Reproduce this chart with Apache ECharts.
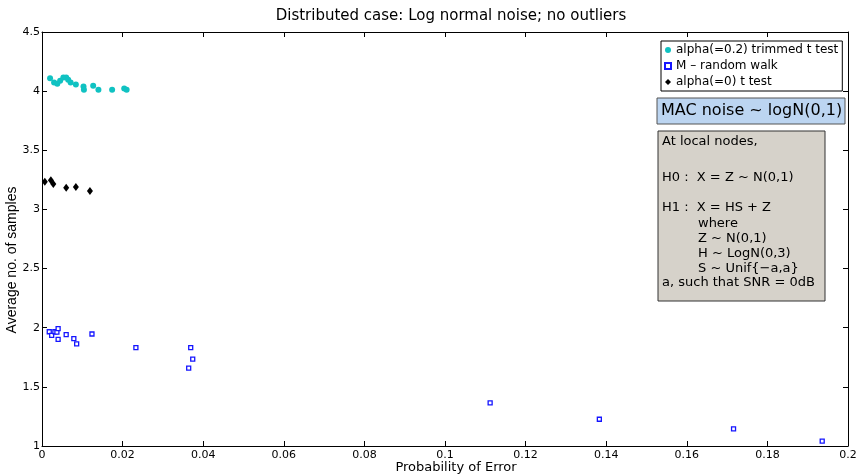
<!DOCTYPE html>
<html>
<head>
<meta charset="utf-8">
<script src="https://cdn.jsdelivr.net/npm/echarts@6/dist/echarts.min.js"></script>
<style>
  html, body { margin: 0; padding: 0; background: #fff; }
  #chart { width: 859px; height: 476px; }
</style>
</head>
<body>
<div id="chart"></div>
<script>
// trimmed t test, alpha = 0.2
const trimmedX = [0.0020, 0.0030, 0.0038, 0.0045, 0.0053, 0.0060, 0.0065, 0.0071, 0.0084, 0.0103, 0.0104, 0.0127, 0.0140, 0.0174, 0.0204, 0.0210]
const trimmedY = [4.108, 4.074, 4.062, 4.087, 4.116, 4.116, 4.096, 4.074, 4.057, 4.040, 4.011, 4.045, 4.011, 4.011, 4.023, 4.011]

// M - random walk
const walkX = [0.0018, 0.0024, 0.0032, 0.0037, 0.0040, 0.0040, 0.0060, 0.0079, 0.0086, 0.0124, 0.0233, 0.0369, 0.0374, 0.0364, 0.1112, 0.1383, 0.1716, 0.1936]
const walkY = [1.966, 1.935, 1.966, 1.963, 1.992, 1.901, 1.941, 1.907, 1.864, 1.947, 1.831, 1.831, 1.735, 1.658, 1.364, 1.226, 1.144, 1.042]

// t test, alpha = 0
const tX = [0.0007, 0.0022, 0.0028, 0.0060, 0.0084, 0.0119]
const tY = [3.235, 3.246, 3.215, 3.184, 3.189, 3.155]

const seriesNames = ['alpha(=0.2) trimmed t test', 'M \u2013 random walk', 'alpha(=0) t test']
const macText = 'MAC noise ~ logN(0,1)'
const noteLines = [
  ['At local nodes,', 0],
  ['H0 :  X = Z ~ N(0,1)', 0],
  ['H1 :  X = HS + Z', 0],
  ['where', 1],
  ['Z ~ N(0,1)', 1],
  ['H ~ LogN(0,3)', 1],
  ['S ~ Unif{\u2212a,a}', 1],
  ['a, such that SNR = 0dB', 0]
]
const noteY = [142, 178, 208, 224, 239, 254, 269, 283]

const pairs = (xs, ys) => xs.map((x, i) => [x, ys[i]])
const font = '"DejaVu Sans", Verdana, sans-serif'
const fontNarrow = '"Liberation Sans", Arial, sans-serif'

const chart = echarts.init(document.getElementById('chart'))

const axisCommon = {
  axisLine: { show: true, onZero: false, lineStyle: { color: '#000', width: 1 } },
  axisTick: { show: true, inside: true, length: 5, lineStyle: { color: '#000' } },
  splitLine: { show: false }
}

const graphics = [
  { type: 'rect', shape: { x: 657, y: 98, width: 188, height: 26 }, style: { fill: '#bcd5f1', stroke: '#555', lineWidth: 1 }, z: 10 },
  { type: 'text', x: 661, y: 111, style: { text: macText, font: '16px ' + font, fill: '#000', verticalAlign: 'middle' }, z: 11 },
  { type: 'rect', shape: { x: 658, y: 131, width: 167, height: 170 }, style: { fill: '#d6d2ca', stroke: '#333', lineWidth: 1 }, z: 10 }
]
noteLines.forEach((l, i) => {
  graphics.push({
    type: 'text',
    x: l[1] ? 698 : 662,
    y: noteY[i],
    style: { text: l[0], font: '13px ' + font, fill: '#000', verticalAlign: 'middle' },
    z: 11
  })
})

chart.setOption({
  animation: false,
  title: {
    text: 'Distributed case: Log normal noise; no outliers',
    left: 446,
    textAlign: 'center',
    top: 4,
    textStyle: { fontFamily: font, fontSize: 15, fontWeight: 'normal', color: '#000' }
  },
  grid: { left: 42, right: 11, top: 32, bottom: 30, outerBoundsMode: 'none' },
  legend: {
    orient: 'vertical',
    left: 661,
    top: 41,
    padding: [2, 4, 2, 3],
    itemGap: 2,
    itemWidth: 6,
    itemHeight: 6,
    borderColor: '#000',
    borderWidth: 1,
    backgroundColor: '#fff',
    textStyle: { fontFamily: font, fontSize: 12, color: '#000', lineHeight: 14 },
    data: seriesNames
  },
  xAxis: [
    Object.assign({}, axisCommon, {
      type: 'value', min: 0, max: 0.2, interval: 0.02,
      name: 'Probability of Error', nameLocation: 'middle', nameGap: 15, nameMoveOverlap: false,
      nameTextStyle: { fontFamily: font, fontSize: 13, color: '#000', padding: [0, 0, 0, 22] },
      axisLabel: { fontFamily: font, fontSize: 11, color: '#000', margin: 4 }
    }),
    Object.assign({}, axisCommon, {
      type: 'value', min: 0, max: 0.2, interval: 0.02, position: 'top',
      axisLabel: { show: false }
    })
  ],
  yAxis: [
    Object.assign({}, axisCommon, {
      type: 'value', min: 1, max: 4.5, interval: 0.5,
      name: 'Average no. of samples', nameLocation: 'middle', nameGap: 23, nameMoveOverlap: false,
      nameTextStyle: { fontFamily: fontNarrow, fontSize: 14, color: '#000', padding: [0, 42, 0, 0] },
      axisLabel: { fontFamily: font, fontSize: 11, color: '#000', margin: 2 }
    }),
    Object.assign({}, axisCommon, {
      type: 'value', min: 1, max: 4.5, interval: 0.5, position: 'right',
      axisLabel: { show: false }
    })
  ],
  series: [
    {
      name: seriesNames[0], type: 'scatter', symbol: 'circle', symbolSize: 6,
      itemStyle: { color: '#10c2c2', opacity: 1 },
      data: pairs(trimmedX, trimmedY)
    },
    {
      name: seriesNames[1], type: 'scatter', symbol: 'rect', symbolSize: 4,
      itemStyle: { color: '#fff', borderColor: '#1515ff', borderWidth: 1.3, opacity: 1 },
      data: pairs(walkX, walkY)
    },
    {
      name: seriesNames[2], type: 'scatter', symbol: 'diamond', symbolSize: [6, 8],
      itemStyle: { color: '#000', opacity: 1 },
      data: pairs(tX, tY)
    }
  ],
  graphic: graphics
})
</script>
</body>
</html>
